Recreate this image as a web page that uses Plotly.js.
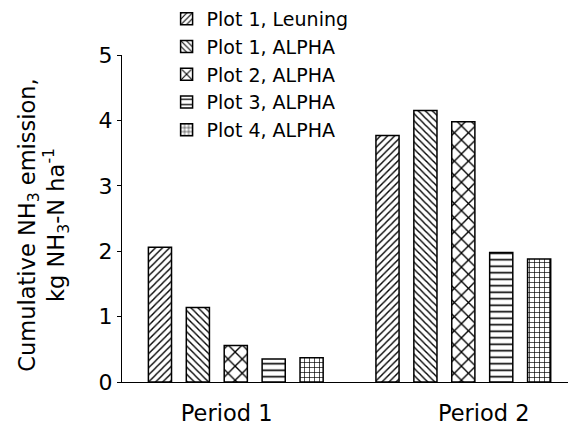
<!DOCTYPE html>
<html>
<head>
<meta charset="utf-8">
<script src="https://cdn.plot.ly/plotly-3.0.1.min.js"></script>
<style>html,body{margin:0;padding:0;background:#fff;}#chart{width:568px;height:425px;}</style>
</head>
<body>
<div id="chart"></div>
<script>
var categories = ["Period 1", "Period 2"];
var seriesNames = ["Plot 1, Leuning", "Plot 1, ALPHA", "Plot 2, ALPHA", "Plot 3, ALPHA", "Plot 4, ALPHA"];
var leuningPlot1 = [2.06, 3.77];
var alphaPlot1 = [1.14, 4.15];
var alphaPlot2 = [0.56, 3.98];
var alphaPlot3 = [0.35, 1.98];
var alphaPlot4 = [0.37, 1.88];
var yTicks = [0, 1, 2, 3, 4, 5];
var yTitle = "Cumulative NH<sub>3</sub> emission,<br>kg NH<sub>3</sub>-N ha<sup>-1</sup>";

var seriesValues = [leuningPlot1, alphaPlot1, alphaPlot2, alphaPlot3, alphaPlot4];
var patterns = [
  {shape: "/", size: 5, solidity: 0.28},
  {shape: "\\", size: 5, solidity: 0.28},
  {shape: "x", size: 10, solidity: 0.25},
  {shape: "-", size: 6.5, solidity: 0.25},
  {shape: "+", size: 5, solidity: 0.25}
];
var xIndex = categories.map(function(c, i){ return i; });

var traces = seriesNames.map(function(name, k){
  return {
    type: "bar",
    name: name,
    x: xIndex,
    y: seriesValues[k],
    marker: {
      color: "white",
      line: {color: "black", width: 1.5},
      pattern: {shape: patterns[k].shape, size: patterns[k].size, solidity: patterns[k].solidity, fgcolor: "black", bgcolor: "white", fillmode: "replace"}
    },
    hoverinfo: "skip"
  };
});

var layout = {
  width: 568, height: 425,
  margin: {l: 122, r: 0, t: 54, b: 43},
  paper_bgcolor: "white", plot_bgcolor: "white",
  font: {family: "DejaVu Sans, Verdana, sans-serif", color: "black", size: 20},
  barmode: "group",
  bargap: 0.167,
  bargroupgap: 0.39,
  showlegend: true,
  legend: {x: 0.1, y: 1.168, xanchor: "left", yanchor: "top", bgcolor: "rgba(0,0,0,0)", font: {size: 19}, tracegroupgap: 0, itemwidth: 30},
  xaxis: {
    range: [-0.5, 1.46],
    tickmode: "array",
    tickvals: [-0.04, 1.09],
    ticktext: categories,
    ticks: "",
    showline: true, linecolor: "black", linewidth: 1,
    showgrid: false, zeroline: false,
    tickfont: {size: 22.5},
    ticklabelstandoff: 11
  },
  yaxis: {
    range: [0, 5],
    tickmode: "array",
    tickvals: yTicks,
    ticks: "outside", ticklen: 4, tickcolor: "black",
    showline: true, linecolor: "black", linewidth: 1,
    showgrid: false, zeroline: false,
    tickfont: {size: 22}
  },
  annotations: [{
    text: yTitle,
    xref: "paper", yref: "paper",
    x: -0.178, y: 0.48,
    xanchor: "center", yanchor: "middle",
    textangle: -90,
    showarrow: false,
    font: {size: 22.5}
  }]
};

Plotly.newPlot("chart", traces, layout, {displayModeBar: false, staticPlot: true});
</script>
</body>
</html>
